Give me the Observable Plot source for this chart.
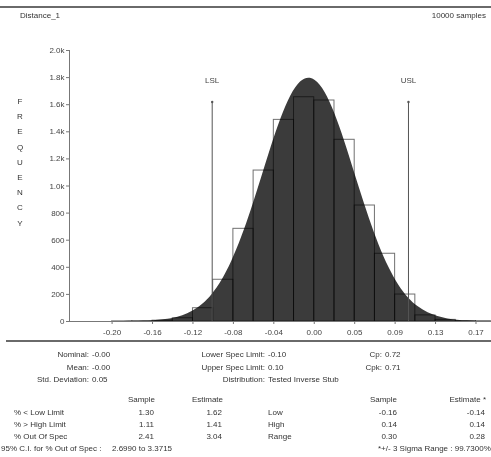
<!DOCTYPE html>
<html><head><meta charset="utf-8">
<script src="https://cdn.jsdelivr.net/npm/d3@7"></script>
<script src="https://cdn.jsdelivr.net/npm/@observablehq/plot@0.6"></script>
<style>
body{margin:0;background:#fff}
#wrap{position:relative;width:491px;height:457px;overflow:hidden;font-family:"Liberation Sans",Arial,sans-serif;color:#333;font-size:8px}
.t{position:absolute;white-space:nowrap;line-height:1;transform:translateY(-50%)}
.rule{position:absolute;height:2px;background:#6a6a6a}
#chart{position:absolute;left:0;top:30px}
</style></head>
<body><div id="wrap"></div>
<script>
// ---- data ----
const title = "Distance_1";
const sampleText = "10000 samples";
const yAxisLetters = ["F","R","E","Q","U","E","N","C","Y"];
const xTickValues = [-0.202,-0.1608,-0.1196,-0.0784,-0.0372,0.004,0.0452,0.0864,0.1276,0.1688];
const xTickLabels = ["-0.20","-0.16","-0.12","-0.08","-0.04","0.00","0.05","0.09","0.13","0.17"];
const yTickValues = [0,200,400,600,800,1000,1200,1400,1600,1800,2000];
const yTickLabels = ["0","200","400","600","800","1.0k","1.2k","1.4k","1.6k","1.8k","2.0k"];
const binWidth = 0.0206;
const binLo = [-0.202,-0.1814,-0.1608,-0.1402,-0.1196,-0.099,-0.0784,-0.0578,-0.0372,-0.0166,0.004,0.0246,0.0452,0.0658,0.0864,0.107,0.1276,0.1482,0.1688];
const binCount = [1,2,6,24,98,308,684,1114,1488,1655,1631,1341,856,500,199,45,12,3,1];
const curveX = [-0.205,-0.20,-0.19,-0.18,-0.17,-0.16,-0.15,-0.14,-0.13,-0.12,-0.11,-0.10,-0.09,-0.08,-0.07,-0.06,-0.05,-0.04,-0.03,-0.02,-0.01,0.00,0.01,0.02,0.03,0.04,0.05,0.06,0.07,0.08,0.09,0.10,0.11,0.12,0.13,0.14,0.15,0.16,0.17,0.18,0.1846];
const curveY = [0,0.3,0.6,1.3,3,6,12,23,43,75,125,200,305,445,621,827,1054,1284,1494,1662,1767,1795,1743,1618,1435,1216,985,763,565,400,270,174,108,64,36,19,10,5,2.3,1,0.5];
const specLabels = ["LSL","USL"];
const specValues = [-0.10,0.10];
const specLineTop = 1620;
const xDomain = [-0.2454,0.1846];

const infoLabels = [["Nominal:","Mean:","Std. Deviation:"],["Lower Spec Limit:","Upper Spec Limit:","Distribution:"],["Cp:","Cpk:"]];
const infoValues = [["-0.00","-0.00","0.05"],["-0.10","0.10","Tested Inverse Stub"],["0.72","0.71"]];
const leftRowLabels = ["% < Low Limit","% > High Limit","% Out Of Spec"];
const leftSample = ["1.30","1.11","2.41"];
const leftEstimate = ["1.62","1.41","3.04"];
const rightRowLabels = ["Low","High","Range"];
const rightSample = ["-0.16","0.14","0.30"];
const rightEstimate = ["-0.14","0.14","0.28"];
const ciLabel = "95% C.I. for % Out of Spec :";
const ciValue = "2.6990 to 3.3715";
const sigmaNote = "*+/- 3 Sigma Range : 99.7300%";

// ---- build ----
const wrap = document.getElementById("wrap");
const W = 491;
function txt(s, x, y, align, extra) {
  const d = document.createElement("div");
  d.className = "t";
  d.textContent = s;
  if (align === "right") d.style.right = (W - x) + "px"; else d.style.left = x + "px";
  d.style.top = y + "px";
  if (extra) Object.assign(d.style, extra);
  wrap.appendChild(d);
}
function rule(x, y, w) {
  const d = document.createElement("div");
  d.className = "rule";
  d.style.left = x + "px"; d.style.top = y + "px"; d.style.width = w + "px";
  wrap.appendChild(d);
}

rule(0, 6, 491);
txt(title, 20, 16);
txt(sampleText, 486, 16, "right");

yAxisLetters.forEach((c, i) => txt(c, 20, 102 + i * 15.2, "left", {transform:"translate(-50%,-50%)"}));

const bins = binLo.map((x0, i) => ({x0, x1: x0 + binWidth, n: binCount[i]}));
const curve = curveX.map((x, i) => ({x, y: curveY[i]}));
const specs = specValues.map((v, i) => ({v, label: specLabels[i]}));

const chart = Plot.plot({
  width: 491, height: 315,
  marginLeft: 69, marginRight: 0, marginTop: 20, marginBottom: 24,
  x: {domain: xDomain},
  y: {domain: [0, 2000]},
  style: {fontFamily: '"Liberation Sans",Arial,sans-serif', fontSize: "8px", color: "#444", background: "transparent"},
  marks: [
    Plot.areaY(curve, {x: "x", y: "y", curve: "natural", fill: "#3b3b3b"}),
    Plot.rectY(bins, {x1: "x0", x2: "x1", y: "n", fill: "none", stroke: "#707070", strokeWidth: 1, mixBlendMode: "multiply"}),
    Plot.ruleX(specs, {x: "v", y1: 0, y2: specLineTop, stroke: "#555"}),
    Plot.dot(specs, {x: "v", y: specLineTop, r: 1.2, fill: "#555"}),
    Plot.text(specs, {x: "v", y: specLineTop, text: "label", dy: -22, fill: "#444"}),
    Plot.ruleY([0], {stroke: "#777"}),
    Plot.ruleX([xDomain[0]], {y1: 0, y2: 2000, stroke: "#777"}),
    Plot.axisY({ticks: yTickValues, tickFormat: d => yTickLabels[yTickValues.indexOf(d)], tickSize: 3, tickPadding: 2, label: null, stroke: "#777"}),
    Plot.axisX({ticks: xTickValues, tickFormat: d => xTickLabels[xTickValues.indexOf(d)], tickSize: 3, tickPadding: 5, label: null, stroke: "#777"})
  ]
});
chart.id = "chart";
wrap.appendChild(chart);

rule(6, 340, 485);

// info block
const rowY = [355, 367.5, 380];
const labelRight = [89, 265, 382];
infoLabels.forEach((col, c) => col.forEach((l, r) => {
  txt(l, labelRight[c], rowY[r], "right");
  txt(infoValues[c][r], labelRight[c] + 3, rowY[r]);
}));

const tY = [412.5, 425, 437];
txt("Sample", 155, 400, "right");
txt("Estimate", 223, 400, "right");
txt("Sample", 397, 400, "right");
txt("Estimate *", 486, 400, "right");
leftRowLabels.forEach((l, i) => {
  txt(l, 14, tY[i]);
  txt(leftSample[i], 154, tY[i], "right");
  txt(leftEstimate[i], 222, tY[i], "right");
  txt(rightRowLabels[i], 268, tY[i]);
  txt(rightSample[i], 397, tY[i], "right");
  txt(rightEstimate[i], 485, tY[i], "right");
});
txt(ciLabel, 1, 449);
txt(ciValue, 112, 449);
txt(sigmaNote, 378, 449);
</script></body></html>
